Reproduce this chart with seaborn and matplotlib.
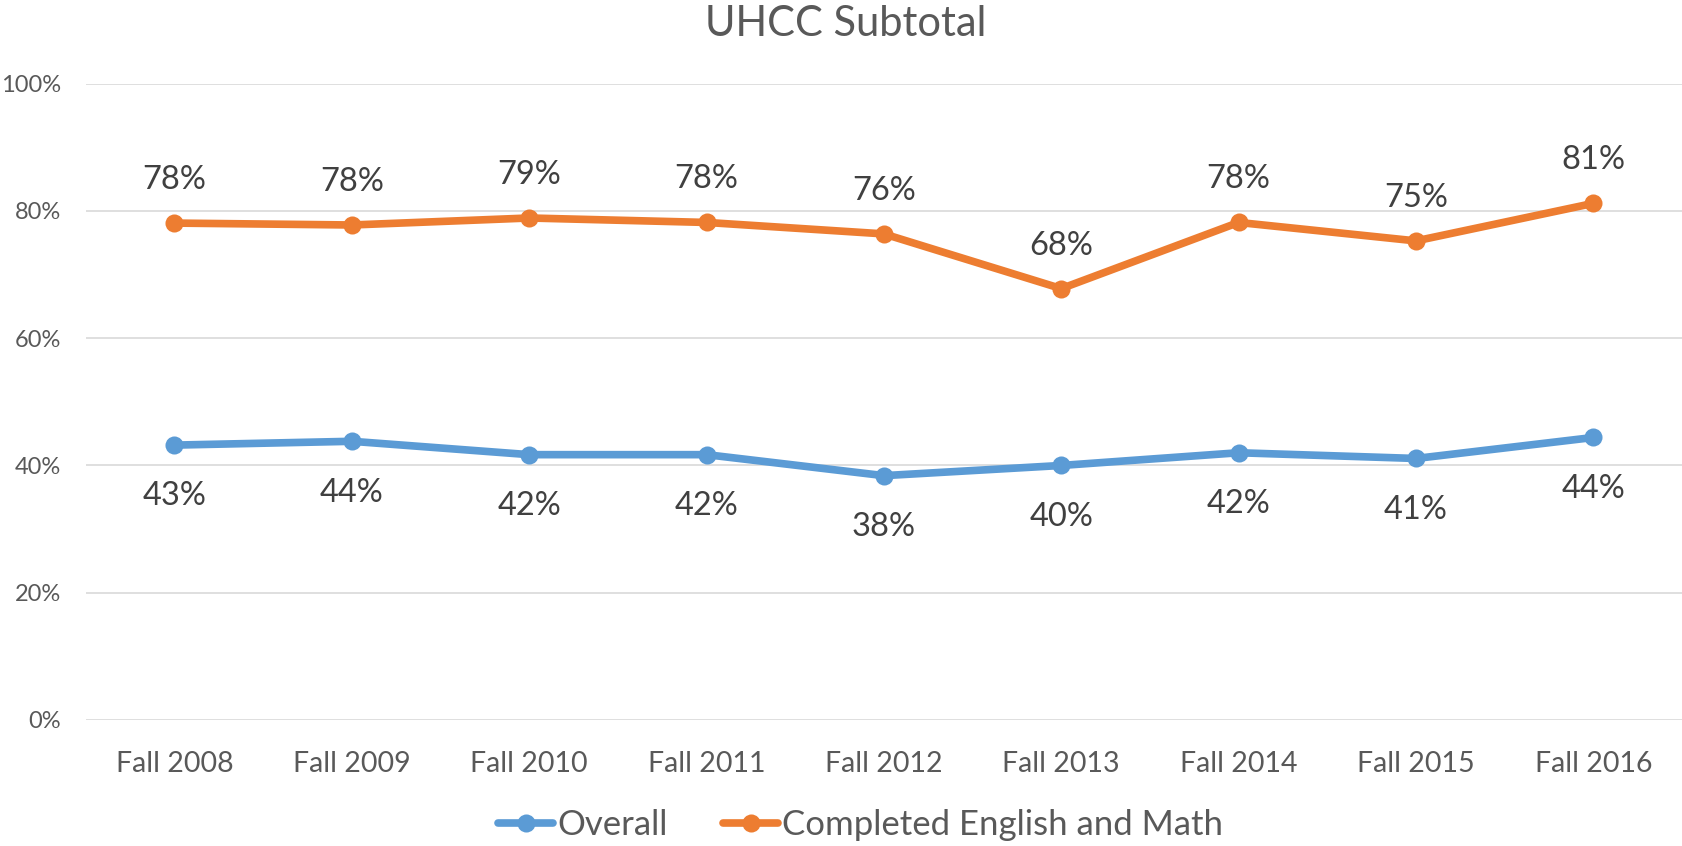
import matplotlib
matplotlib.use("Agg")
import matplotlib.pyplot as plt
import seaborn as sns
import pandas as pd
from matplotlib.ticker import PercentFormatter

# chart data
terms = ["Fall 2008", "Fall 2009", "Fall 2010", "Fall 2011", "Fall 2012",
         "Fall 2013", "Fall 2014", "Fall 2015", "Fall 2016"]
overall = [43.2, 43.8, 41.7, 41.7, 38.4, 40.0, 42.0, 41.1, 44.4]
completed = [78.1, 77.8, 78.9, 78.2, 76.4, 67.8, 78.2, 75.3, 81.2]
series_names = ["Overall", "Completed English and Math"]
y_ticks = [0, 20, 40, 60, 80, 100]

BLUE = "#5B9BD5"
ORANGE = "#ED7D31"
TEXT = "#595959"
LABEL = "#404040"
GRID = "#D9D9D9"

sns.set_theme(style="whitegrid")
plt.rcParams["font.family"] = ["Lato", "DejaVu Sans"]

df = pd.DataFrame({"term": terms * 2,
                   "value": overall + completed,
                   "series": [series_names[0]] * len(terms) + [series_names[1]] * len(terms)})

fig = plt.figure(figsize=(16.82, 8.46), dpi=100)
ax = fig.add_axes([0.051, 0.149, 0.949, 0.752])

sns.lineplot(data=df, x="term", y="value", hue="series", sort=False,
             palette=[BLUE, ORANGE], marker="o", markersize=13, markeredgewidth=0,
             linewidth=5.5, ax=ax, legend=True)

# data labels: below for Overall, above for Completed
for i, v in enumerate(overall):
    ax.annotate(f"{v:.0f}%", (i, v), xytext=(0, -37), textcoords="offset points",
                ha="center", va="center", fontsize=23.5, color=LABEL)
for i, v in enumerate(completed):
    ax.annotate(f"{v:.0f}%", (i, v), xytext=(0, 31), textcoords="offset points",
                ha="center", va="center", fontsize=23.5, color=LABEL)

ax.set_xlim(-0.5, len(terms) - 0.5)
ax.set_ylim(0, 100)
ax.set_yticks(y_ticks)
ax.yaxis.set_major_formatter(PercentFormatter(decimals=0))
ax.grid(axis="y", color=GRID, linewidth=1.2)
ax.grid(axis="x", visible=False)
for s in ax.spines.values():
    s.set_visible(False)
ax.tick_params(axis="x", labelsize=20.5, colors=TEXT, length=0, pad=22)
ax.tick_params(axis="y", labelsize=17, colors=TEXT, length=0, pad=18)
ax.set_xlabel("")
ax.set_ylabel("")

fig.suptitle("UHCC Subtotal", fontsize=30, color=TEXT, y=0.972, va="center", x=0.503)

handles, labels = ax.get_legend_handles_labels()
ax.legend_.remove()
fig.legend(handles, labels, loc="center", bbox_to_anchor=(0.5115, 0.025), ncol=2,
           frameon=False, fontsize=25, labelcolor=TEXT, handlelength=1.6,
           handletextpad=0.1, columnspacing=1.6)

fig.savefig("out.png", dpi=100)
